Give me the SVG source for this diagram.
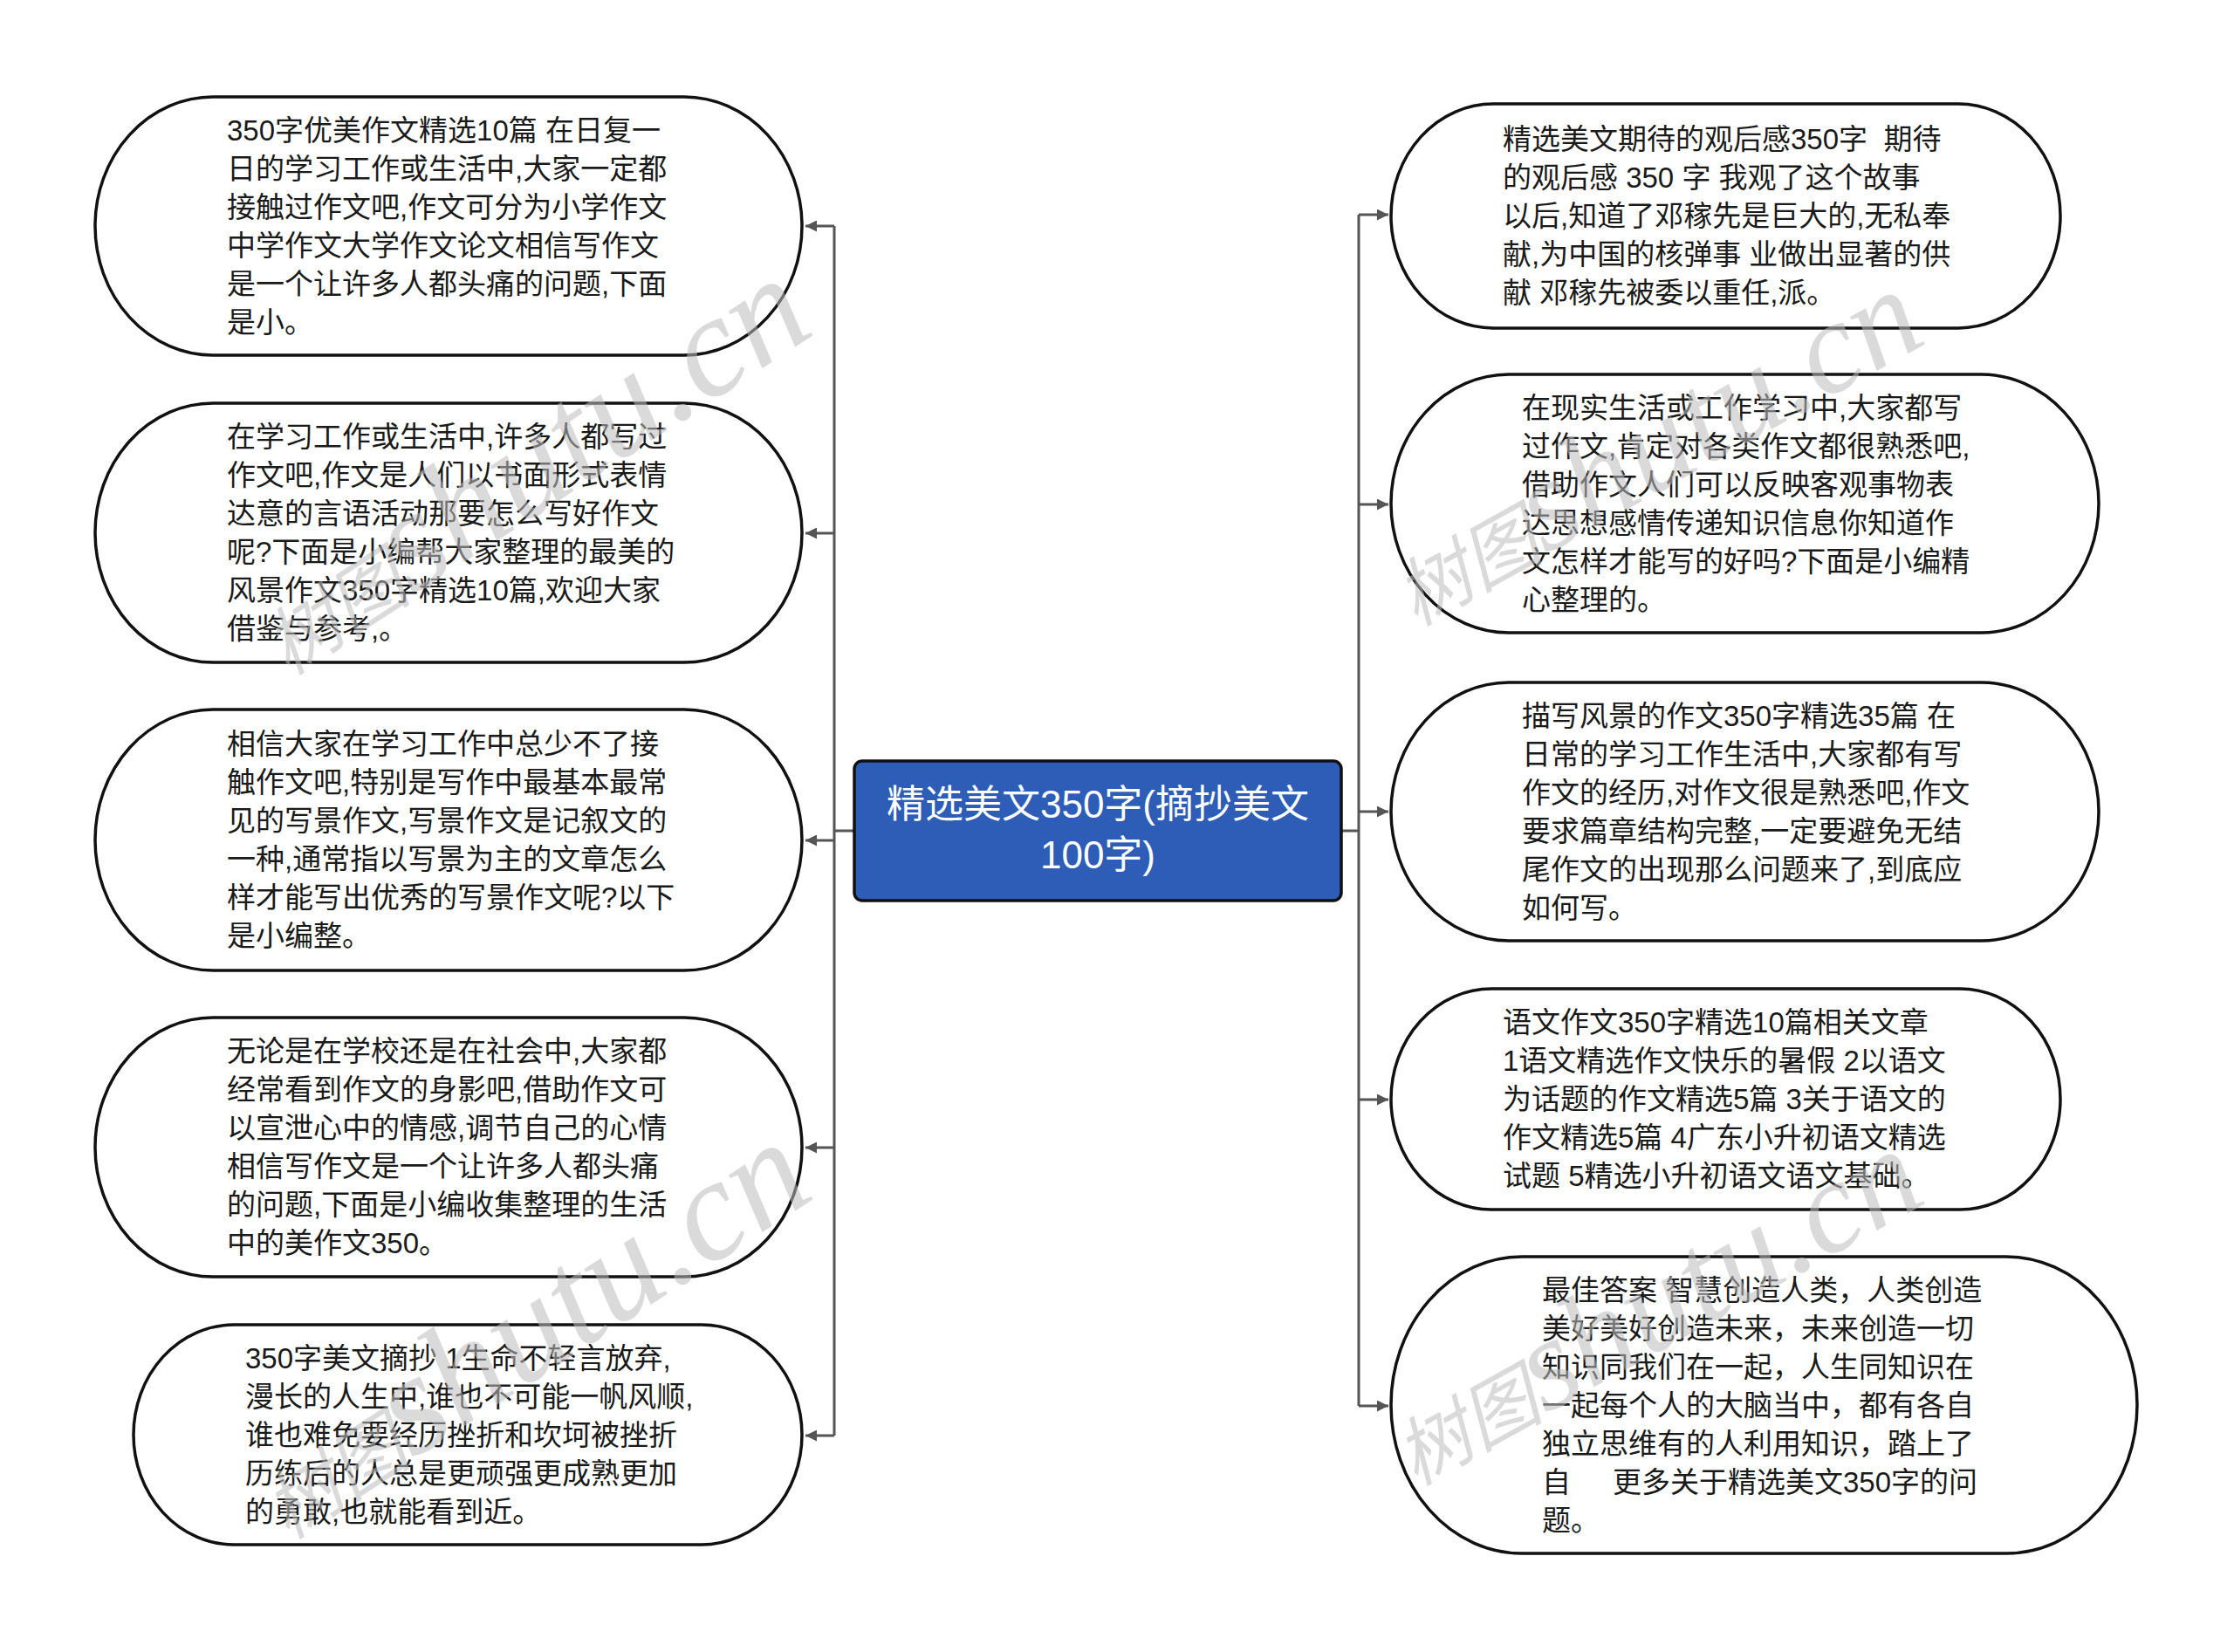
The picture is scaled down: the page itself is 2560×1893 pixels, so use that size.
<svg xmlns="http://www.w3.org/2000/svg" width="2560" height="1893" viewBox="0 0 2560 1893">
<defs>
<style>
.node{fill:#fff;stroke:#111;stroke-width:3.5}
.t{font-family:"Liberation Sans","Noto Sans CJK SC",sans-serif;font-size:33px;fill:#1a1a1a;white-space:pre}
.ct{font-family:"Liberation Sans","Noto Sans CJK SC",sans-serif;font-size:44px;fill:#fff;text-anchor:middle}
.c{fill:none;stroke:#555;stroke-width:3}
.wm{font-family:"Liberation Serif","Noto Sans CJK SC",serif;font-style:italic;fill:#bdbdbd;opacity:.55}
</style>
<marker id="ah" viewBox="0 0 10 10" refX="10" refY="5" markerWidth="13" markerHeight="13" markerUnits="userSpaceOnUse" orient="auto"><path d="M0,0 L10,5 L0,10 z" fill="#555"/></marker>
</defs>
<rect width="2560" height="1893" fill="#fff"/>

<g id="connectors">
<path class="c" d="M978,952 H956 M956,259 V1645 M1537,952 H1557 M1557,246 V1611"/>
<path class="c" marker-end="url(#ah)" d="M956,259 H923"/>
<path class="c" marker-end="url(#ah)" d="M956,611 H923"/>
<path class="c" marker-end="url(#ah)" d="M956,963 H923"/>
<path class="c" marker-end="url(#ah)" d="M956,1315 H923"/>
<path class="c" marker-end="url(#ah)" d="M956,1645 H923"/>
<path class="c" marker-end="url(#ah)" d="M1557,246 H1591"/>
<path class="c" marker-end="url(#ah)" d="M1557,578 H1591"/>
<path class="c" marker-end="url(#ah)" d="M1557,930 H1591"/>
<path class="c" marker-end="url(#ah)" d="M1557,1260 H1591"/>
<path class="c" marker-end="url(#ah)" d="M1557,1611 H1591"/>
</g>

<g id="center">
<rect x="979" y="872" width="558" height="160" rx="9" fill="#2d5db6" stroke="#111" stroke-width="3.5"/>
<text class="ct"><tspan x="1258" y="937">精选美文350字(摘抄美文</tspan><tspan x="1258" y="995">100字)</tspan></text>
</g>

<g id="L1">
<rect class="node" x="109" y="111" width="810" height="296" rx="135" ry="148"/>
<text class="t"><tspan x="260" y="161">350字优美作文精选10篇 在日复一</tspan><tspan x="260" dy="44">日的学习工作或生活中,大家一定都</tspan><tspan x="260" dy="44">接触过作文吧,作文可分为小学作文</tspan><tspan x="260" dy="44">中学作文大学作文论文相信写作文</tspan><tspan x="260" dy="44">是一个让许多人都头痛的问题,下面</tspan><tspan x="260" dy="44">是小。</tspan></text>
</g>
<g id="L2">
<rect class="node" x="109" y="462" width="810" height="297" rx="135" ry="148.5"/>
<text class="t"><tspan x="260" y="512">在学习工作或生活中,许多人都写过</tspan><tspan x="260" dy="44">作文吧,作文是人们以书面形式表情</tspan><tspan x="260" dy="44">达意的言语活动那要怎么写好作文</tspan><tspan x="260" dy="44">呢?下面是小编帮大家整理的最美的</tspan><tspan x="260" dy="44">风景作文350字精选10篇,欢迎大家</tspan><tspan x="260" dy="44">借鉴与参考,。</tspan></text>
</g>
<g id="L3">
<rect class="node" x="109" y="813" width="810" height="299" rx="135" ry="149.5"/>
<text class="t"><tspan x="260" y="864">相信大家在学习工作中总少不了接</tspan><tspan x="260" dy="44">触作文吧,特别是写作中最基本最常</tspan><tspan x="260" dy="44">见的写景作文,写景作文是记叙文的</tspan><tspan x="260" dy="44">一种,通常指以写景为主的文章怎么</tspan><tspan x="260" dy="44">样才能写出优秀的写景作文呢?以下</tspan><tspan x="260" dy="44">是小编整。</tspan></text>
</g>
<g id="L4">
<rect class="node" x="109" y="1166" width="810" height="297" rx="135" ry="148.5"/>
<text class="t"><tspan x="260" y="1216">无论是在学校还是在社会中,大家都</tspan><tspan x="260" dy="44">经常看到作文的身影吧,借助作文可</tspan><tspan x="260" dy="44">以宣泄心中的情感,调节自己的心情</tspan><tspan x="260" dy="44">相信写作文是一个让许多人都头痛</tspan><tspan x="260" dy="44">的问题,下面是小编收集整理的生活</tspan><tspan x="260" dy="44">中的美作文350。</tspan></text>
</g>
<g id="L5">
<rect class="node" x="153" y="1518" width="766" height="252" rx="115" ry="126"/>
<text class="t"><tspan x="281" y="1568">350字美文摘抄 1生命不轻言放弃,</tspan><tspan x="281" dy="44">漫长的人生中,谁也不可能一帆风顺,</tspan><tspan x="281" dy="44">谁也难免要经历挫折和坎坷被挫折</tspan><tspan x="281" dy="44">历练后的人总是更顽强更成熟更加</tspan><tspan x="281" dy="44">的勇敢,也就能看到近。</tspan></text>
</g>

<g id="R1">
<rect class="node" x="1594" y="119" width="767" height="257" rx="117" ry="128.5"/>
<text class="t"><tspan x="1722" y="171">精选美文期待的观后感350字  期待</tspan><tspan x="1722" dy="44">的观后感 350 字 我观了这个故事</tspan><tspan x="1722" dy="44">以后,知道了邓稼先是巨大的,无私奉</tspan><tspan x="1722" dy="44">献,为中国的核弹事 业做出显著的供</tspan><tspan x="1722" dy="44">献 邓稼先被委以重任,派。</tspan></text>
</g>
<g id="R2">
<rect class="node" x="1594" y="429" width="811" height="296" rx="135" ry="148"/>
<text class="t"><tspan x="1744" y="479">在现实生活或工作学习中,大家都写</tspan><tspan x="1744" dy="44">过作文,肯定对各类作文都很熟悉吧,</tspan><tspan x="1744" dy="44">借助作文人们可以反映客观事物表</tspan><tspan x="1744" dy="44">达思想感情传递知识信息你知道作</tspan><tspan x="1744" dy="44">文怎样才能写的好吗?下面是小编精</tspan><tspan x="1744" dy="44">心整理的。</tspan></text>
</g>
<g id="R3">
<rect class="node" x="1594" y="782" width="811" height="296" rx="135" ry="148"/>
<text class="t"><tspan x="1744" y="832">描写风景的作文350字精选35篇 在</tspan><tspan x="1744" dy="44">日常的学习工作生活中,大家都有写</tspan><tspan x="1744" dy="44">作文的经历,对作文很是熟悉吧,作文</tspan><tspan x="1744" dy="44">要求篇章结构完整,一定要避免无结</tspan><tspan x="1744" dy="44">尾作文的出现那么问题来了,到底应</tspan><tspan x="1744" dy="44">如何写。</tspan></text>
</g>
<g id="R4">
<rect class="node" x="1594" y="1133" width="767" height="253" rx="115" ry="126.5"/>
<text class="t"><tspan x="1722" y="1183">语文作文350字精选10篇相关文章</tspan><tspan x="1722" dy="44">1语文精选作文快乐的暑假 2以语文</tspan><tspan x="1722" dy="44">为话题的作文精选5篇 3关于语文的</tspan><tspan x="1722" dy="44">作文精选5篇 4广东小升初语文精选</tspan><tspan x="1722" dy="44">试题 5精选小升初语文语文基础。</tspan></text>
</g>
<g id="R5">
<rect class="node" x="1594" y="1440" width="855" height="340" rx="150" ry="170"/>
<text class="t"><tspan x="1767" y="1490">最佳答案 智慧创造人类，人类创造</tspan><tspan x="1767" dy="44">美好美好创造未来，未来创造一切</tspan><tspan x="1767" dy="44">知识同我们在一起，人生同知识在</tspan><tspan x="1767" dy="44">一起每个人的大脑当中，都有各自</tspan><tspan x="1767" dy="44">独立思维有的人利用知识，踏上了</tspan><tspan x="1767" dy="44">自</tspan><tspan x="1848">更多关于精选美文350字的问</tspan><tspan x="1767" dy="44">题。</tspan></text>
</g>

<g id="watermark">
<text class="wm" transform="translate(330,775) rotate(-33)"><tspan font-size="85">树图</tspan><tspan font-size="165">shutu.cn</tspan></text>
<text class="wm" transform="translate(1622,718) rotate(-29)"><tspan font-size="85">树图</tspan><tspan font-size="150">shutu.cn</tspan></text>
<text class="wm" transform="translate(330,1765) rotate(-33)"><tspan font-size="85">树图</tspan><tspan font-size="165">shutu.cn</tspan></text>
<text class="wm" transform="translate(1622,1703) rotate(-29)"><tspan font-size="85">树图</tspan><tspan font-size="150">shutu.cn</tspan></text>
</g>
</svg>
